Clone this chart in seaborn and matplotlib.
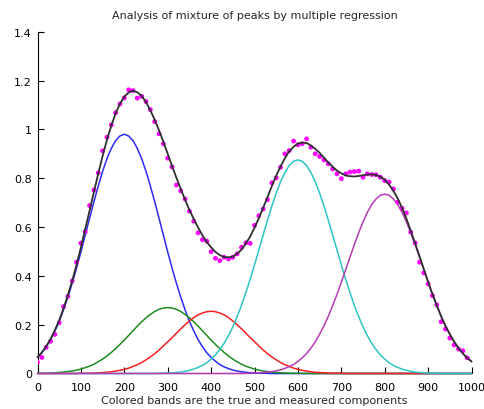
import numpy as np
import pandas as pd
import matplotlib
matplotlib.use("Agg")
import matplotlib.pyplot as plt
import seaborn as sns

# ---- data ----
comp_x = list(range(0, 1001, 10))
comp_blue = [0.066, 0.085, 0.110, 0.139, 0.174, 0.214, 0.261, 0.313, 0.370, 0.432,
             0.498, 0.567, 0.636, 0.704, 0.768, 0.828, 0.880, 0.922, 0.954, 0.973,
             0.980, 0.973, 0.954, 0.922, 0.880, 0.828, 0.768, 0.704, 0.636, 0.567,
             0.498, 0.432, 0.370, 0.313, 0.261, 0.214, 0.174, 0.139, 0.110, 0.085,
             0.066, 0.050, 0.037, 0.027, 0.020, 0.014, 0.010, 0.007, 0.005, 0.003,
             0.002, 0.001, 0.001, 0.001] + [0.0] * 47
comp_green = [0.001, 0.001, 0.001, 0.002, 0.003, 0.004, 0.006, 0.008, 0.010, 0.014,
              0.018, 0.024, 0.030, 0.038, 0.048, 0.059, 0.072, 0.086, 0.102, 0.119,
              0.137, 0.156, 0.175, 0.194, 0.212, 0.228, 0.242, 0.254, 0.263, 0.268,
              0.270, 0.268, 0.263, 0.254, 0.242, 0.228, 0.212, 0.194, 0.175, 0.156,
              0.137, 0.119, 0.102, 0.086, 0.072, 0.059, 0.048, 0.038, 0.030, 0.024,
              0.018, 0.014, 0.010, 0.008, 0.006, 0.004, 0.003, 0.002, 0.001, 0.001,
              0.001] + [0.0] * 40
comp_red = [0.0] * 10 + [
            0.001, 0.001, 0.001, 0.002, 0.003, 0.004, 0.005, 0.007, 0.010, 0.013,
            0.017, 0.022, 0.029, 0.036, 0.045, 0.056, 0.068, 0.081, 0.096, 0.113,
            0.130, 0.147, 0.165, 0.183, 0.200, 0.215, 0.229, 0.240, 0.248, 0.253,
            0.255, 0.253, 0.248, 0.240, 0.229, 0.215, 0.200, 0.183, 0.165, 0.147,
            0.130, 0.113, 0.096, 0.081, 0.068, 0.056, 0.045, 0.036, 0.029, 0.022,
            0.017, 0.013, 0.010, 0.007, 0.005, 0.004, 0.003, 0.002, 0.001, 0.001,
            0.001] + [0.0] * 30
comp_cyan = [0.0] * 28 + [
             0.001, 0.001, 0.002, 0.003, 0.004, 0.006, 0.009, 0.013, 0.018, 0.025,
             0.033, 0.044, 0.059, 0.076, 0.098, 0.124, 0.155, 0.191, 0.233, 0.279,
             0.331, 0.386, 0.445, 0.506, 0.568, 0.628, 0.686, 0.739, 0.785, 0.823,
             0.852, 0.869, 0.875, 0.869, 0.852, 0.823, 0.785, 0.739, 0.686, 0.628,
             0.568, 0.506, 0.445, 0.386, 0.331, 0.279, 0.233, 0.191, 0.155, 0.124,
             0.098, 0.076, 0.059, 0.044, 0.033, 0.025, 0.018, 0.013, 0.009, 0.006,
             0.004, 0.003, 0.002, 0.001, 0.001] + [0.0] * 8
comp_magenta = [0.0] * 48 + [
                0.001, 0.001, 0.002, 0.002, 0.004, 0.005, 0.008, 0.011, 0.015, 0.021,
                0.028, 0.037, 0.049, 0.064, 0.082, 0.104, 0.130, 0.161, 0.195, 0.234,
                0.278, 0.324, 0.374, 0.425, 0.477, 0.528, 0.576, 0.621, 0.660, 0.692,
                0.715, 0.730, 0.735, 0.730, 0.715, 0.692, 0.660, 0.621, 0.576, 0.528,
                0.477, 0.425, 0.374, 0.324, 0.278, 0.234, 0.195, 0.161, 0.130, 0.104,
                0.082, 0.064, 0.049]

meas_x = list(range(0, 1000, 10))
meas_y = [0.046, 0.066, 0.107, 0.132, 0.160, 0.208, 0.274, 0.316, 0.379, 0.456,
          0.534, 0.581, 0.688, 0.752, 0.822, 0.912, 0.968, 1.018, 1.068, 1.104,
          1.129, 1.162, 1.159, 1.128, 1.135, 1.114, 1.081, 1.032, 0.982, 0.941,
          0.882, 0.846, 0.772, 0.748, 0.715, 0.665, 0.624, 0.576, 0.548, 0.542,
          0.499, 0.472, 0.462, 0.476, 0.469, 0.476, 0.490, 0.517, 0.535, 0.533,
          0.607, 0.646, 0.674, 0.712, 0.781, 0.801, 0.845, 0.900, 0.913, 0.952,
          0.937, 0.941, 0.961, 0.927, 0.900, 0.889, 0.875, 0.859, 0.838, 0.818,
          0.798, 0.818, 0.825, 0.827, 0.829, 0.804, 0.818, 0.815, 0.814, 0.804,
          0.790, 0.784, 0.756, 0.702, 0.677, 0.658, 0.579, 0.535, 0.456, 0.412,
          0.367, 0.319, 0.281, 0.212, 0.182, 0.145, 0.117, 0.100, 0.093, 0.064]

x_ticks = list(range(0, 1001, 100))
y_ticks = [0, 0.2, 0.4, 0.6, 0.8, 1.0, 1.2, 1.4]
y_tick_labels = ["0", "0.2", "0.4", "0.6", "0.8", "1", "1.2", "1.4"]

title_text = "Analysis of mixture of peaks by multiple regression"
xlabel_text = "Colored bands are the true and measured components"

# ---- build tables ----
comp_names = ["blue", "green", "red", "cyan", "magenta"]
comp_vals = [comp_blue, comp_green, comp_red, comp_cyan, comp_magenta]
rows = []
for name, vals in zip(comp_names, comp_vals):
    for xv, yv in zip(comp_x, vals):
        rows.append({"x": xv, "y": yv, "component": name})
df_comp = pd.DataFrame(rows)
n = min(len(v) for v in comp_vals)
fit_y = np.sum(np.array([v[:n] for v in comp_vals]), axis=0)
df_fit = pd.DataFrame({"x": comp_x[:n], "y": fit_y})
df_meas = pd.DataFrame({"x": meas_x, "y": meas_y})

palette = {"blue": "#2b2bf5", "green": "#1e8c1e", "red": "#f52020",
           "cyan": "#2ec4c4", "magenta": "#b53cb5"}

sns.set_style("ticks")
plt.rcParams["font.family"] = ["DejaVu Sans"]

fig = plt.figure(figsize=(4.84, 4.10), dpi=100)
ax = fig.add_axes([0.0775, 0.0866, 0.8967, 0.8336])

sns.lineplot(data=df_comp, x="x", y="y", hue="component", hue_order=comp_names,
             palette=palette, legend=False, linewidth=1.1, ax=ax)
sns.scatterplot(data=df_meas, x="x", y="y", color="#ff00ff", s=12,
                edgecolor="none", ax=ax, zorder=4)
sns.lineplot(data=df_fit, x="x", y="y", color="#303030", linewidth=1.3, ax=ax)

for ln in ax.lines:
    ln.set_clip_on(False)
    ln.set_zorder(5 if ln.get_color() == "#303030" else 3)

ax.set_xlim(0, 1000)
ax.set_ylim(0, 1.4)
ax.set_xticks(x_ticks)
ax.set_xticklabels([str(t) for t in x_ticks])
ax.set_yticks(y_ticks)
ax.set_yticklabels(y_tick_labels)
sns.despine(ax=ax)
for s in ["left", "bottom"]:
    ax.spines[s].set_linewidth(0.8)
    ax.spines[s].set_color("black")
ax.tick_params(direction="in", length=4, width=0.8, colors="black",
               labelsize=8, pad=4)
ax.tick_params(axis="x", pad=6)
ax.set_xlabel(xlabel_text, fontsize=8, labelpad=2)
ax.set_ylabel("")
ax.set_title(title_text, fontsize=8, pad=10)

fig.savefig("out.png", dpi=100)
